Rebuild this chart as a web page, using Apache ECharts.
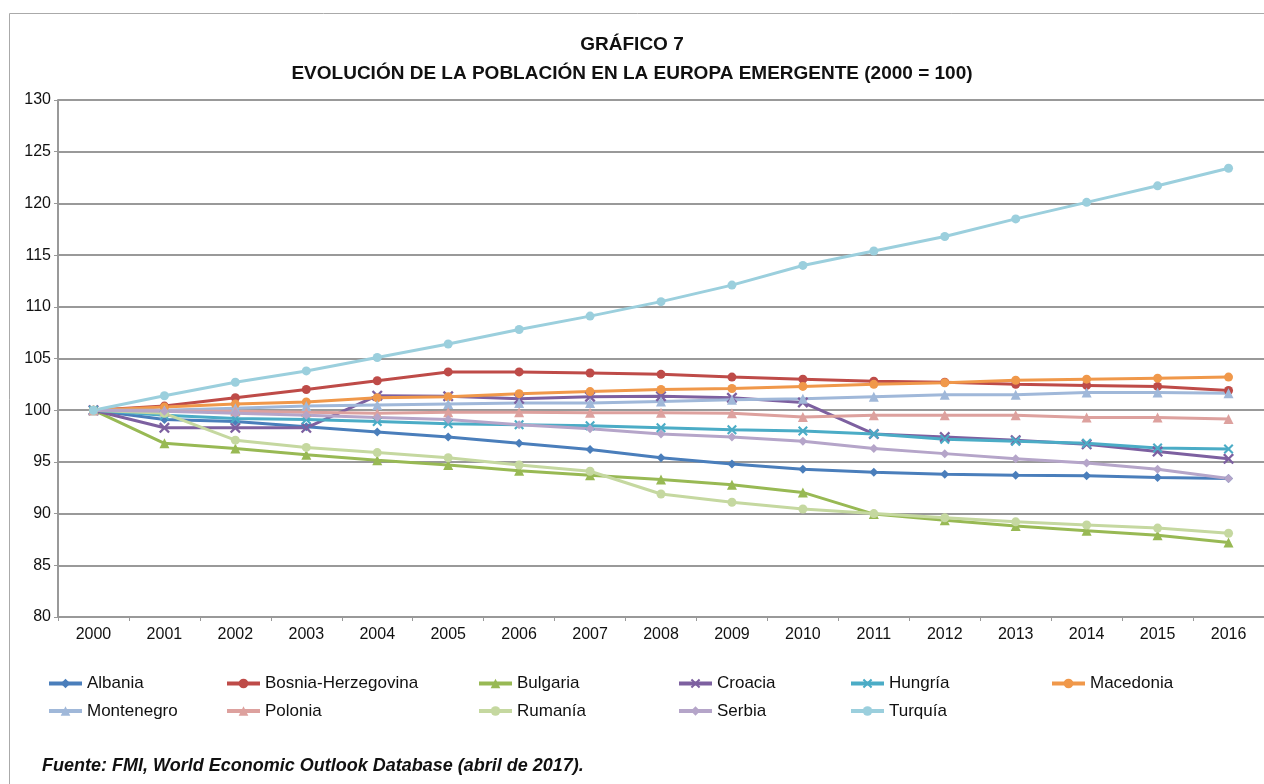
<!DOCTYPE html>
<html>
<head>
<meta charset="utf-8">
<script src="https://cdn.jsdelivr.net/npm/echarts@6/dist/echarts.min.js"></script>
<style>
  html, body { margin: 0; padding: 0; background: #fff; }
  #chart { width: 1264px; height: 784px; }
</style>
</head>
<body>
<div id="chart"></div>
<script>
const years = ['2000', '2001', '2002', '2003', '2004', '2005', '2006', '2007', '2008',
  '2009', '2010', '2011', '2012', '2013', '2014', '2015', '2016'];

const albania    = [100, 99.1, 98.9, 98.4, 97.9, 97.4, 96.8, 96.2, 95.4, 94.8, 94.3, 94.0, 93.8, 93.7, 93.65, 93.5, 93.4];
const bosnia     = [100, 100.4, 101.2, 102.0, 102.85, 103.7, 103.7, 103.6, 103.47, 103.2, 103.0, 102.8, 102.7, 102.5, 102.4, 102.3, 101.9];
const bulgaria   = [100, 96.8, 96.3, 95.7, 95.15, 94.7, 94.15, 93.7, 93.3, 92.8, 92.05, 89.95, 89.35, 88.8, 88.35, 87.9, 87.2];
const croacia    = [100, 98.3, 98.3, 98.3, 101.4, 101.35, 101.1, 101.3, 101.35, 101.2, 100.75, 97.7, 97.4, 97.1, 96.7, 96.0, 95.3];
const hungria    = [100, 99.5, 99.2, 99.1, 98.9, 98.7, 98.6, 98.5, 98.3, 98.1, 98.0, 97.7, 97.2, 97.0, 96.8, 96.35, 96.25];
const macedonia  = [100, 100.3, 100.6, 100.8, 101.2, 101.3, 101.6, 101.8, 102.0, 102.1, 102.3, 102.5, 102.65, 102.9, 103.0, 103.1, 103.2];
const montenegro = [100, 100.0, 100.2, 100.4, 100.5, 100.6, 100.7, 100.7, 100.85, 101.0, 101.1, 101.3, 101.5, 101.5, 101.7, 101.7, 101.65];
const polonia    = [100, 99.9, 99.9, 99.8, 99.7, 99.8, 99.8, 99.75, 99.75, 99.7, 99.35, 99.5, 99.5, 99.5, 99.3, 99.3, 99.15];
const rumania    = [100, 99.7, 97.1, 96.4, 95.9, 95.4, 94.7, 94.1, 91.9, 91.1, 90.45, 90.0, 89.6, 89.2, 88.9, 88.6, 88.1];
const serbia     = [100, 99.9, 99.7, 99.5, 99.3, 99.1, 98.6, 98.2, 97.7, 97.4, 97.0, 96.3, 95.8, 95.3, 94.9, 94.3, 93.4];
const turquia    = [100, 101.4, 102.7, 103.8, 105.1, 106.4, 107.8, 109.1, 110.5, 112.1, 114.0, 115.4, 116.8, 118.5, 120.1, 121.7, 123.4];

const crossPath = 'path://M0,1.5L1.5,0L5,3.5L8.5,0L10,1.5L6.5,5L10,8.5L8.5,10L5,6.5L1.5,10L0,8.5L3.5,5Z';

const seriesDefs = [
  { name: 'Albania', data: albania, color: '#4A7EBB', symbol: 'diamond', size: 9 },
  { name: 'Bosnia-Herzegovina', data: bosnia, color: '#BE4B48', symbol: 'circle', size: 9 },
  { name: 'Bulgaria', data: bulgaria, color: '#98B954', symbol: 'triangle', size: 10 },
  { name: 'Croacia', data: croacia, color: '#7D60A0', symbol: crossPath, size: 11 },
  { name: 'Hungría', data: hungria, color: '#4BACC6', symbol: crossPath, size: 10 },
  { name: 'Macedonia', data: macedonia, color: '#F0984A', symbol: 'circle', size: 9 },
  { name: 'Montenegro', data: montenegro, color: '#A0B8D9', symbol: 'triangle', size: 10 },
  { name: 'Polonia', data: polonia, color: '#DDA19E', symbol: 'triangle', size: 10 },
  { name: 'Rumanía', data: rumania, color: '#C5D8A0', symbol: 'circle', size: 9 },
  { name: 'Serbia', data: serbia, color: '#B5A5C9', symbol: 'diamond', size: 9 },
  { name: 'Turquía', data: turquia, color: '#9BCFDD', symbol: 'circle', size: 9 }
];

const font = '"Liberation Sans", Arial, sans-serif';

// legend columns, as in the original layout
const legendCols = [
  { left: 47, data: ['Albania', 'Montenegro'] },
  { left: 225, data: ['Bosnia-Herzegovina', 'Polonia'] },
  { left: 477, data: ['Bulgaria', 'Rumanía'] },
  { left: 677, data: ['Croacia', 'Serbia'] },
  { left: 849, data: ['Hungría', 'Turquía'] },
  { left: 1050, data: ['Macedonia'] }
];

const chart = echarts.init(document.getElementById('chart'));

chart.setOption({
  animation: false,
  backgroundColor: '#fff',
  title: [
    {
      text: 'GRÁFICO 7',
      left: 'center',
      top: 30,
      textStyle: { fontFamily: font, fontSize: 19, fontWeight: 'bold', color: '#111' }
    },
    {
      text: 'EVOLUCIÓN DE LA POBLACIÓN EN LA EUROPA EMERGENTE (2000 = 100)',
      left: 'center',
      top: 59,
      textStyle: { fontFamily: font, fontSize: 19, fontWeight: 'bold', color: '#111' }
    }
  ],
  legend: legendCols.map(c => ({
    left: c.left,
    top: 675,
    padding: 0,
    orient: 'vertical',
    itemWidth: 33,
    itemHeight: 12,
    itemGap: 10.5,
    data: c.data,
    lineStyle: { width: 4 },
    textStyle: { fontFamily: font, fontSize: 17, color: '#111' }
  })),
  graphic: [
    {
      type: 'rect',
      shape: { x: 9.5, y: 13.5, width: 1300, height: 800 },
      style: { fill: 'none', stroke: '#aaa', lineWidth: 1 },
      silent: true
    },
    {
      type: 'text',
      left: 42,
      top: 757,
      style: {
        text: 'Fuente: FMI, World Economic Outlook Database (abril de 2017).',
        font: 'italic bold 18px "Liberation Sans", Arial, sans-serif',
        fill: '#111'
      }
    }
  ],
  grid: {
    left: 58,
    top: 100,
    width: 1211,
    height: 517
  },
  xAxis: {
    type: 'category',
    data: years,
    boundaryGap: true,
    axisLine: { lineStyle: { color: '#999', width: 2 } },
    axisTick: { show: true, interval: 0, length: 4, lineStyle: { color: '#999' } },
    axisLabel: { fontFamily: font, fontSize: 16, color: '#111', margin: 10, interval: 0 }
  },
  yAxis: {
    type: 'value',
    min: 80,
    max: 130,
    interval: 5,
    axisLine: { show: true, lineStyle: { color: '#999', width: 2 } },
    axisTick: { show: true, length: 4, lineStyle: { color: '#999' } },
    axisLabel: { fontFamily: font, fontSize: 16, color: '#111', margin: 7 },
    splitLine: { lineStyle: { color: '#999', width: 2 } }
  },
  series: seriesDefs.map(s => ({
    name: s.name,
    type: 'line',
    data: s.data,
    symbol: s.symbol,
    symbolSize: s.size,
    showAllSymbol: true,
    color: s.color,
    lineStyle: { width: 3, color: s.color },
    itemStyle: { color: s.color }
  }))
});
</script>
</body>
</html>
